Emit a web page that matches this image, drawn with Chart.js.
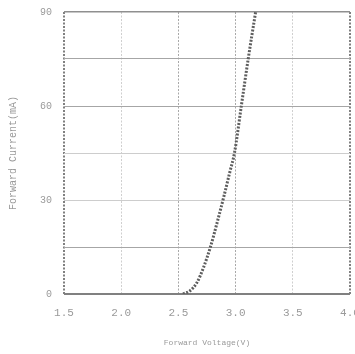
<!DOCTYPE html>
<html>
<head>
<meta charset="utf-8">
<script src="https://cdn.jsdelivr.net/npm/chart.js@4"></script>
<style>
  html, body { margin: 0; padding: 0; background: #fff; }
  #wrap { width: 355px; height: 354px; }
</style>
</head>
<body>
<div id="wrap"><canvas id="ivChart"></canvas></div>
<script>
// forward voltage (V) vs forward current (mA)
const voltage = [2.54, 2.60, 2.66, 2.72, 2.78, 2.84, 2.90, 2.95, 2.99, 3.05, 3.11, 3.175];
const current = [0, 1, 3.5, 8.5, 15, 23, 31.5, 39, 45, 60, 75, 90];

const xTicks = [1.5, 2.0, 2.5, 3.0, 3.5, 4.0];
const yTicks = [0, 15, 30, 45, 60, 75, 90];
const yLabels = [0, 30, 60, 90];

const font = { family: "Liberation Mono", size: 10 };
const textColor = "#9a9a9a";

new Chart(document.getElementById("ivChart"), {
  type: "scatter",
  data: {
    datasets: [{
      data: voltage.map((v, i) => ({ x: v, y: current[i] })),
      showLine: true,
      borderColor: "#5e5e5e",
      borderWidth: 3,
      borderDash: [2, 1.5],
      pointRadius: 0,
      cubicInterpolationMode: "monotone"
    }]
  },
  options: {
    responsive: true,
    maintainAspectRatio: false,
    animation: false,
    layout: { padding: { top: 12, right: 5, left: 0, bottom: 0 } },
    plugins: { legend: { display: false }, tooltip: { enabled: false } },
    scales: {
      x: {
        type: "linear",
        min: 1.5,
        max: 4.0,
        afterBuildTicks: axis => { axis.ticks = xTicks.map(v => ({ value: v })); },
        afterFit: axis => {
          axis.height = 60;
          axis.paddingLeft = 0;
          axis.paddingRight = 0;
        },
        ticks: {
          font: { family: "Liberation Mono", size: 11 },
          color: textColor,
          padding: 12,
          maxRotation: 0,
          callback: v => v.toFixed(1)
        },
        grid: {
          drawTicks: false,
          color: ctx => (ctx.tick.value === 1.5 || ctx.tick.value === 4.0) ? "#808080" :
                        (ctx.tick.value === 2.5 || ctx.tick.value === 3.0) ? "#a8a8a8" : "#cfcfcf",
          lineWidth: ctx => (ctx.tick.value === 1.5 || ctx.tick.value === 4.0) ? 2 : 1
        },
        border: { display: false, dash: [2, 1.5] },
        title: {
          display: true,
          text: "Forward Voltage(V)",
          font: { family: "Liberation Mono", size: 8 },
          color: textColor,
          padding: 6
        }
      },
      y: {
        min: 0,
        max: 90,
        afterBuildTicks: axis => { axis.ticks = yTicks.map(v => ({ value: v })); },
        afterFit: axis => {
          axis.width = 64;
          axis.paddingTop = 0;
          axis.paddingBottom = 0;
        },
        ticks: {
          font,
          color: textColor,
          padding: 12,
          callback: v => yLabels.includes(v) ? v : ""
        },
        grid: {
          drawTicks: false,
          color: ctx => ctx.tick.value === 0 ? "#808080" :
                        ctx.tick.value === 90 ? "#8f8f8f" :
                        (ctx.tick.value === 15 || ctx.tick.value === 75 || ctx.tick.value === 60) ? "#a6a6a6" : "#cdcdcd",
          lineWidth: ctx => ctx.tick.value === 0 ? 2 : ctx.tick.value === 90 ? 1.5 : 1
        },
        border: { display: false },
        title: {
          display: true,
          text: "Forward Current(mA)",
          font,
          color: textColor,
          padding: 7
        }
      }
    }
  }
});
</script>
</body>
</html>
